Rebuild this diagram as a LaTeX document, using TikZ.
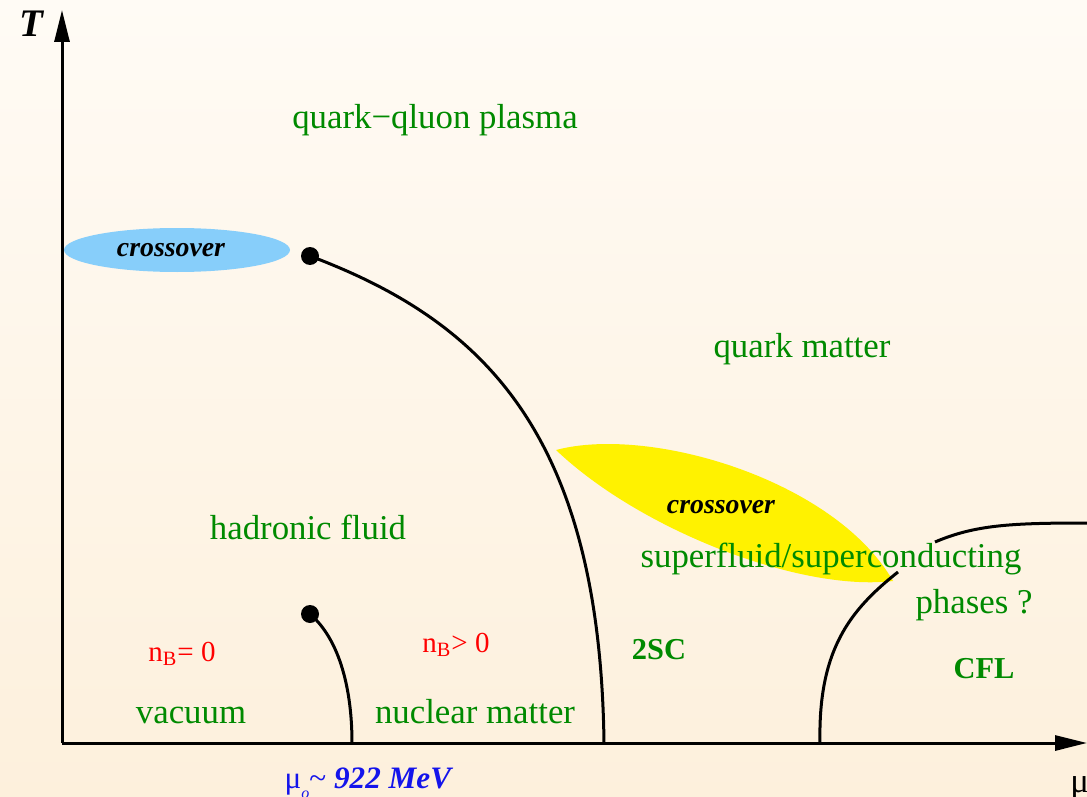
\documentclass[tikz,border=0pt]{standalone}
\usepackage{fontspec}
\setmainfont{Liberation Serif}
\usetikzlibrary{arrows.meta}

\definecolor{bgtop}{RGB}{255,251,245}
\definecolor{bgbot}{RGB}{253,240,220}
\definecolor{phasegreen}{RGB}{0,138,0}
\definecolor{xoverblue}{RGB}{135,206,250}
\definecolor{mublue}{RGB}{20,20,235}

\begin{document}
\begin{tikzpicture}[
    x=0.5pt, y=-0.5pt,
    phase/.style={text=phasegreen, anchor=base, font=\fontsize{17.4}{20}\selectfont, inner sep=0pt},
    phasebf/.style={phase, font=\fontsize{15.2}{18}\selectfont\bfseries},
    dens/.style={text=red, anchor=base, font=\fontsize{14.5}{17}\selectfont, inner sep=0pt},
    xover/.style={anchor=base, font=\fontsize{13.9}{16}\selectfont\bfseries\itshape, inner sep=0pt},
    axis/.style={line width=1.5pt, -{Triangle[length=16pt, width=7.5pt]}},
    border/.style={line width=1.5pt},
    endpt/.style={circle, fill=black, inner sep=0pt, minimum size=9pt}
]
    % background
    \useasboundingbox (0,0) rectangle (1087,797);
    \shade[top color=bgtop, bottom color=bgbot] (0,0) rectangle (1087,797);

    % crossover regions
    \fill[xoverblue] (177,250) ellipse [x radius=113, y radius=22];
    \fill[yellow] (556,450) .. controls (650,425) and (835,480) .. (893,581)
        .. controls (800,592) and (640,530) .. (556,450);

    % axes
    \coordinate (origin) at (62,743);
    \coordinate (tmax) at (62,10);
    \coordinate (mumax) at (1087,743);
    \draw[axis] (origin) -- (tmax);
    \draw[axis] (origin) -- (mumax);
    \node[anchor=base, font=\fontsize{19.5}{22}\selectfont\bfseries\itshape, inner sep=0pt] (tlabel) at (31,37) {T};
    \node[anchor=base west, font=\fontsize{17.4}{20}\selectfont, inner sep=0pt] (mulabel) at (1070,792) {μ};

    % critical end points and phase borders
    \node[endpt] (cep) at (310,256) {};
    \node[endpt] (nep) at (310,614) {};
    \coordinate (hq) at (604,743);
    \coordinate (nm) at (352,743);
    \coordinate (cflbot) at (820,743);
    \coordinate (cflmid) at (898,572);
    \coordinate (cflgap) at (935,542);
    \coordinate (cflend) at (1087,523);
    \draw[border] (cep.center) .. controls (480,320) and (600,430) .. (hq);
    \draw[border] (nep.center) .. controls (340,640) and (352,690) .. (nm);
    \draw[border] (cflbot) .. controls (818,650) and (850,610) .. (cflmid);
    \draw[border] (cflgap) .. controls (975,525) and (1010,523) .. (cflend);

    % labels
    \node[xover] (xover1) at (171,256) {crossover};
    \node[xover] (xover2) at (721,513) {crossover};
    \node[phase] (qgp) at (435,128) {quark−qluon plasma};
    \node[phase] (qm) at (802,357) {quark matter};
    \node[phase] (hf) at (308,539) {hadronic fluid};
    \node[phase] (sc) at (831,567) {superfluid/superconducting};
    \node[phase] (ph) at (974,613) {phases ?};
    \node[phasebf] (tsc) at (659,659) {2SC};
    \node[phasebf] (cfl) at (984,678) {CFL};
    \node[phase] (vac) at (191,723) {vacuum};
    \node[phase] (nuc) at (475,723) {nuclear matter};
    \node[dens] (nb0) at (182,661) {n\textsubscript{B}= 0};
    \node[dens] (nbp) at (456,652) {n\textsubscript{B}> 0};
    \node[anchor=base, text=mublue, font=\fontsize{15.6}{18}\selectfont, inner sep=0pt] (muo) at (369,788)
        {μ\raisebox{-5pt}{\footnotesize\textit{o}}\char`\~{} \textbf{\textit{922 MeV}}};
\end{tikzpicture}
\end{document}
